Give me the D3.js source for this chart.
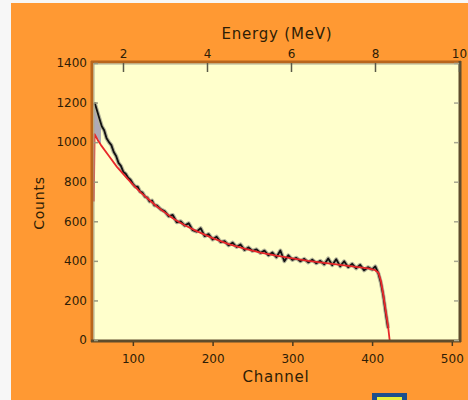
<!DOCTYPE html>
<html>
<head>
<meta charset="utf-8">
<script src="https://cdn.jsdelivr.net/npm/d3@7"></script>
<style>
  html, body { margin: 0; padding: 0; background: #f7f7f7; }
  svg { display: block; }
  text { font-family: "DejaVu Sans", sans-serif; fill: #2e1d06; }
</style>
</head>
<body>
<svg id="chart" width="468" height="400"></svg>
<script>
// ---- data ----
const channelTicks = [100, 200, 300, 400, 500];
const energyTicks = [2, 4, 6, 8, 10];
const countTicks = [0, 200, 400, 600, 800, 1000, 1200, 1400];

const dataChannels = [52,55,58,61,64,67,70,73,76,79,82,85,88,91,94,97,100,103,106,109,112,115,118,121,124,127,130,
  135,140,145,150,155,160,165,170,175,180,185,190,195,200,205,210,215,220,225,230,235,240,245,250,255,260,265,270,275,280,
  285,290,295,300,305,310,315,320,325,330,335,340,345,350,355,360,365,370,375,380,385,390,395,400,404,408,411,414,417,420];
const dataCounts = [1200,1160,1120,1080,1060,1020,1000,985,950,930,895,880,850,840,820,810,790,775,775,750,745,725,720,700,705,680,680,
  660,650,625,632,595,600,578,590,555,548,565,525,535,508,522,495,500,478,492,470,483,455,468,450,458,440,452,428,442,418,
  452,398,428,405,415,398,410,392,406,388,400,382,412,378,408,372,398,368,385,362,380,352,368,356,372,335,290,225,140,60];

const fitChannels = [51,52,56,60,70,80,90,100,110,120,130,140,150,165,180,200,220,240,260,280,300,320,340,360,380,395,403,408,411,414,417,420,422];
const fitCounts = [700,1040,1010,985,930,875,830,785,745,710,675,645,615,580,550,515,485,462,442,426,413,400,390,380,370,362,355,340,300,230,150,70,0];

const bandChannels = [51,52,56,60];
const bandUpper = [1200,1200,1140,1090];
const bandLower = [700,1040,1010,985];

// ---- layout ----
const svg = d3.select("#chart");
const L = 93, R = 459, T = 63, B = 340;

const x = d3.scaleLinear().domain([50, 509]).range([L, R]);
const y = d3.scaleLinear().domain([0, 1400]).range([B, T]);
// energy calibration: E = 0.337 + 0.01898 * channel
const e = d3.scaleLinear().domain([0.337 + 0.01898 * 50, 10]).range([L, R]);

// page background
svg.append("rect").attr("x", 11).attr("y", 3).attr("width", 457).attr("height", 397).attr("fill", "#ff9933");

// plot area
svg.append("rect").attr("x", L).attr("y", T).attr("width", R - L).attr("height", B - T).attr("fill", "#ffffcc");

// gray band at start
const band = d3.area()
  .x((d, i) => x(bandChannels[i]))
  .y0((d, i) => y(bandLower[i]))
  .y1((d, i) => y(bandUpper[i]));
svg.append("path").datum(bandChannels).attr("d", band).attr("fill", "#aeaab8");

// data
const dataLine = d3.line().x((d, i) => x(dataChannels[i])).y((d, i) => y(dataCounts[i]));
svg.append("path").datum(dataChannels).attr("d", dataLine)
  .attr("fill", "none").attr("stroke", "#b4b49a").attr("stroke-width", 4).attr("stroke-linejoin", "round");
svg.append("path").datum(dataChannels).attr("d", dataLine)
  .attr("fill", "none").attr("stroke", "#111").attr("stroke-width", 1.8).attr("stroke-linejoin", "round");

// fit
const fitLine = d3.line().x((d, i) => x(fitChannels[i])).y((d, i) => y(fitCounts[i]));
svg.append("path").datum(fitChannels).attr("d", fitLine)
  .attr("fill", "none").attr("stroke", "#e8282a").attr("stroke-width", 1.8).attr("stroke-linejoin", "round");

// frame
svg.append("line").attr("x1", L - 1).attr("x2", L - 1).attr("y1", T - 2).attr("y2", B + 2).attr("stroke", "#b8661c").attr("stroke-width", 3);
svg.append("line").attr("x1", L - 2).attr("x2", R + 2).attr("y1", T - 1).attr("y2", T - 1).attr("stroke", "#b8661c").attr("stroke-width", 3);
svg.append("line").attr("x1", L + 1).attr("x2", L + 1).attr("y1", T).attr("y2", B).attr("stroke", "#a9a98f").attr("stroke-width", 1);
svg.append("line").attr("x1", L).attr("x2", R).attr("y1", T + 1).attr("y2", T + 1).attr("stroke", "#a9a98f").attr("stroke-width", 1);
svg.append("line").attr("x1", R + 1).attr("x2", R + 1).attr("y1", T - 2).attr("y2", B + 2).attr("stroke", "#5e4c2c").attr("stroke-width", 3);
svg.append("line").attr("x1", L - 2).attr("x2", R + 2).attr("y1", B + 1).attr("y2", B + 1).attr("stroke", "#5e4c2c").attr("stroke-width", 3);

// axes
function styleAxis(g, stroke) {
  g.select(".domain").remove();
  g.selectAll(".tick line").attr("stroke", stroke).attr("stroke-width", 1.5);
  g.selectAll(".tick text").attr("font-size", 12).attr("fill", "#2e1d06").attr("font-family", "DejaVu Sans, sans-serif");
}
// bottom (channel)
const gb = svg.append("g").attr("transform", `translate(0,${B + 2})`)
  .call(d3.axisBottom(x).tickValues(channelTicks).tickSize(4).tickPadding(8).tickFormat(d3.format("d")));
styleAxis(gb, "#4a3a1e");
// top (energy)
const gt = svg.append("g").attr("transform", `translate(0,${T})`)
  .call(d3.axisTop(e).tickValues(energyTicks).tickSize(-9).tickPadding(5).tickFormat(d3.format("d")));
styleAxis(gt, "#5a5a48");
// left (counts)
const gl = svg.append("g").attr("transform", `translate(${L + 1},0)`)
  .call(d3.axisLeft(y).tickValues(countTicks).tickSize(-4).tickPadding(7).tickFormat(d3.format("d")));
styleAxis(gl, "#9a9a80");
// right
const gr = svg.append("g").attr("transform", `translate(${R},0)`)
  .call(d3.axisRight(y).tickValues(countTicks).tickSize(-5).tickFormat(""));
styleAxis(gr, "#a8a890");

// titles
svg.append("text").attr("x", 277).attr("y", 39).attr("text-anchor", "middle")
  .attr("font-size", 15).attr("letter-spacing", 0.8).text("Energy (MeV)");
svg.append("text").attr("x", 276).attr("y", 382).attr("text-anchor", "middle")
  .attr("font-size", 15).attr("letter-spacing", 0.8).text("Channel");
svg.append("text").attr("transform", "translate(44,203) rotate(-90)").attr("text-anchor", "middle")
  .attr("font-size", 14).attr("letter-spacing", 0.8).text("Counts");

// small blue button at bottom
svg.append("rect").attr("x", 372).attr("y", 393).attr("width", 35).attr("height", 10).attr("fill", "#1d4f8c");
svg.append("rect").attr("x", 377).attr("y", 397).attr("width", 25).attr("height", 6).attr("fill", "#e6ef3c");
</script>
</body>
</html>
